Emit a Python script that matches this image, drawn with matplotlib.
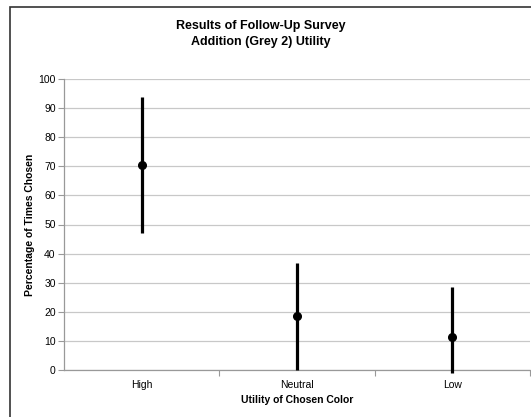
import matplotlib.pyplot as plt
from matplotlib.patches import Rectangle

plt.rcParams['font.family'] = ['Liberation Sans', 'DejaVu Sans']

# Daten
categories = ["High", "Neutral", "Low"]
means = [70.5, 18.5, 11.3]
upper = [93.8, 36.8, 28.5]
lower = [47.0, 0.0, -1.0]

err_low = [m - l for m, l in zip(means, lower)]
err_high = [u - m for m, u in zip(means, upper)]

fig = plt.figure(figsize=(5.31, 4.17), dpi=100)
ax = fig.add_axes([64 / 531, 1 - 370 / 417, (530 - 64) / 531, (370 - 79) / 417])

x = list(range(len(categories)))
ax.errorbar(x, means, yerr=[err_low, err_high], fmt="o", color="black",
            ecolor="black", elinewidth=2.3, capsize=0, markersize=5.5,
            zorder=3, clip_on=False)

# Achsen
ax.set_xlim(-0.5, len(categories) - 0.5)
ax.set_ylim(0, 100)
ax.set_yticks(range(0, 101, 10))
ax.set_xticks([i + 0.5 for i in range(len(categories))], minor=False)
ax.set_xticklabels([])
ax.set_xticks(x, minor=True)
ax.set_xticklabels(categories, minor=True)
ax.tick_params(axis="x", which="major", length=4, color="#999999")
ax.tick_params(axis="x", which="minor", length=0, labelsize=7.5, pad=7)
ax.tick_params(axis="y", length=4, color="#999999", labelsize=7.5, pad=2)
ax.yaxis.grid(True, color="#c8c8c8", linewidth=0.9)
ax.set_axisbelow(True)
for s in ["top", "right"]:
    ax.spines[s].set_visible(False)
for s in ["left", "bottom"]:
    ax.spines[s].set_color("#999999")
    ax.spines[s].set_linewidth(0.9)

ax.set_xlabel("Utility of Chosen Color", fontsize=7.5, fontweight="bold")
ax.set_ylabel("Percentage of Times Chosen", fontsize=7.5, fontweight="bold")
ax.xaxis.set_label_coords((297 - 64) / 466, -(400 - 370) / 291)
ax.yaxis.set_label_coords(-(64 - 30) / 466, (370 - 225) / 291)
ax.xaxis.label.set_va("center")
ax.yaxis.label.set_va("center")

fig.text(261 / 531, 1 - 34 / 417, "Results of Follow-Up Survey\nAddition (Grey 2) Utility",
         ha="center", va="center", fontsize=9, fontweight="bold", linespacing=1.45)

# Rahmen
fig.patches.append(Rectangle((10 / 531, -0.05), 1.1, 1 - 7 / 417 + 0.05,
                             transform=fig.transFigure, fill=False,
                             edgecolor="#333333", linewidth=1.2))

plt.savefig("out.png", dpi=100)
